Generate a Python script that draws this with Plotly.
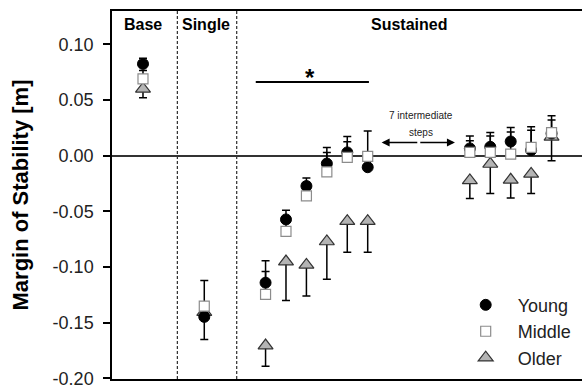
import plotly.graph_objects as go

# ---- data ----
x_pos = [0, 3, 6, 7, 8, 9, 10, 11, 16, 17, 18, 19, 20]

young = [0.0825, -0.1447, -0.114, -0.0572, -0.0272, -0.007, 0.003, -0.0103,
         0.0066, 0.0080, 0.0128, 0.005, 0.020]
young_sd = [0.005, 0.004, 0.0197, 0.0082, 0.0072, 0.0145, 0.0142, 0.0063,
            0.0112, 0.0128, 0.0125, 0.021, 0.016]

middle = [0.069, -0.135, -0.1245, -0.068, -0.036, -0.0145, -0.0015, -0.0005,
          0.003, 0.003, 0.0015, 0.0075, 0.0208]
middle_sd = [0.0075, 0.023, 0.0205, 0.010, 0.012, 0.0175, 0.014, 0.0227,
             0.0104, 0.0148, 0.0199, 0.0155, 0.0112]

older = [0.060, -0.1405, -0.1705, -0.095, -0.098, -0.077, -0.0587, -0.0587,
         -0.0222, -0.0074, -0.0216, -0.0163, 0.017]
older_sd = [0.008, 0.0245, 0.0185, 0.035, 0.028, 0.034, 0.0279, 0.0279,
            0.0163, 0.0266, 0.0163, 0.0177, 0.0215]

section_labels = ["Base", "Single", "Sustained"]
section_x = [0, 3.07, 13.02]
section_dividers = [1.68, 4.59]
y_ticks = [-0.20, -0.15, -0.10, -0.05, 0.00, 0.05, 0.10]

FONT = "Liberation Sans, Arial, sans-serif"
zeros = [0] * len(x_pos)

fig = go.Figure()

fig.add_trace(go.Scatter(
    x=x_pos, y=older, mode="markers", name="Older", legendrank=3,
    marker=dict(symbol="triangle-up", size=13, color="#b4b4b4",
                line=dict(color="#333333", width=1.2)),
    error_y=dict(type="data", symmetric=False, array=zeros, arrayminus=older_sd,
                 color="black", thickness=1.5, width=4),
))
fig.add_trace(go.Scatter(
    x=x_pos, y=young, mode="markers", name="Young", legendrank=1,
    marker=dict(symbol="circle", size=11, color="black",
                line=dict(color="black", width=1)),
    error_y=dict(type="data", symmetric=False, array=young_sd, arrayminus=zeros,
                 color="black", thickness=1.5, width=4),
))
fig.add_trace(go.Scatter(
    x=x_pos, y=middle, mode="markers", name="Middle", legendrank=2,
    marker=dict(symbol="square", size=10, color="white",
                line=dict(color="#8c8c8c", width=1.2)),
    error_y=dict(type="data", symmetric=False, array=middle_sd, arrayminus=zeros,
                 color="black", thickness=1.5, width=4),
))

# dashed section dividers
for xd in section_dividers:
    fig.add_shape(type="line", x0=xd, x1=xd, y0=-0.2005, y1=0.13, xref="x", yref="y",
                  line=dict(color="black", width=1, dash="3px,2px"), layer="below")

# significance bar
fig.add_shape(type="line", x0=5.52, x1=11.06, y0=0.0662, y1=0.0662,
              line=dict(color="black", width=2))
fig.add_annotation(x=8.17, y=0.0706, text="<b>*</b>", showarrow=False,
                   yanchor="middle", font=dict(family=FONT, size=24, color="black"))

for lab, xs in zip(section_labels, section_x):
    fig.add_annotation(x=xs, y=0.118, text="<b>%s</b>" % lab, showarrow=False,
                       font=dict(family=FONT, size=16, color="black"))

# "7 intermediate steps" double arrow
fig.add_annotation(x=11.68, y=0.0119, ax=13.5, ay=0.0119, axref="x", ayref="y",
                   xref="x", yref="y", text="", showarrow=True, arrowhead=2,
                   arrowsize=1, arrowwidth=1.6, arrowcolor="black")
fig.add_annotation(x=15.27, y=0.0119, ax=13.5, ay=0.0119, axref="x", ayref="y",
                   xref="x", yref="y", text="", showarrow=True, arrowhead=2,
                   arrowsize=1, arrowwidth=1.6, arrowcolor="black")
fig.add_annotation(x=13.6, y=0.0362, text="7 intermediate", showarrow=False,
                   font=dict(family=FONT, size=10, color="#222"))
fig.add_annotation(x=13.6, y=0.0211, text="steps", showarrow=False,
                   font=dict(family=FONT, size=10, color="#222"))

fig.update_layout(
    width=582, height=389,
    margin=dict(l=112, r=0, t=11, b=8),
    paper_bgcolor="white", plot_bgcolor="white",
    font=dict(family=FONT, color="#222"),
    showlegend=True,
    legend=dict(x=0.727, y=0.251, xanchor="left", yanchor="top",
                font=dict(family=FONT, size=18, color="#222"), itemwidth=54,
                bgcolor="rgba(0,0,0,0)", tracegroupgap=0, traceorder="normal"),
    xaxis=dict(range=[-1.517, 21.49], showline=True, mirror=True, linecolor="black",
               linewidth=1.5, showticklabels=False, ticks="", showgrid=False,
               zeroline=False),
    yaxis=dict(range=[-0.2005, 0.13], tickvals=y_ticks,
               ticktext=["%.2f" % v for v in y_ticks],
               ticks="outside", ticklen=7, tickwidth=1.5, tickcolor="black",
               ticklabelstandoff=6, ticklabeloverflow="allow",
               showline=True, linecolor="black", linewidth=1.5, showgrid=False,
               zeroline=True, zerolinecolor="#333333", zerolinewidth=2,
               tickfont=dict(family=FONT, size=18, color="#222"),
               title=dict(text="<b>Margin of Stability [m]</b>", standoff=18,
                          font=dict(family=FONT, size=22, color="black"))),
)

fig.write_html("out.html", config={"displayModeBar": False},
               post_script="document.body.style.margin='0';document.body.style.overflow='hidden';")
